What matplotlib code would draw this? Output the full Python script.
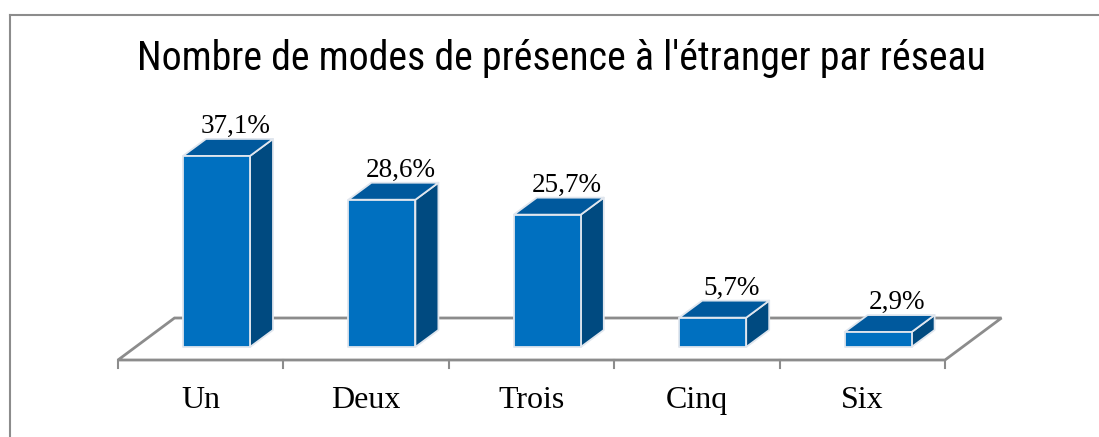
import matplotlib
matplotlib.use("Agg")
import matplotlib.pyplot as plt
from matplotlib.patches import Polygon
from matplotlib.lines import Line2D
from matplotlib import font_manager

categories = ["Un", "Deux", "Trois", "Cinq", "Six"]
values = [37.1, 28.6, 25.7, 5.7, 2.9]
labels = ["37,1%", "28,6%", "25,7%", "5,7%", "2,9%"]
title = "Nombre de modes de présence à l'étranger par réseau"

W, H, DPI = 1099, 437, 100
fig = plt.figure(figsize=(W / DPI, H / DPI), dpi=DPI)
fig.patch.set_facecolor("white")

# pick a narrow sans font for the title if one is installed
names = {f.name for f in font_manager.fontManager.ttflist}
title_font = None
for cand in ["Liberation Sans Narrow", "Arial Narrow", "Roboto Condensed",
             "Open Sans Condensed", "DejaVu Sans Condensed"]:
    if cand in names:
        title_font = cand
        break
if title_font:
    title_kw = dict(family=[title_font, "DejaVu Sans"], fontsize=28.7)
else:
    cond = [f for f in font_manager.fontManager.ttflist
            if "DejaVu Sans" == f.name and f.stretch == "condensed"]
    if cond:
        title_kw = dict(family=["DejaVu Sans"], stretch="condensed", fontsize=25)
    else:
        title_kw = dict(family=["DejaVu Sans"], fontsize=22.5)

# geometry (pixels)
cat_px = 165.4
k = 5.15
x0_px, x1_px = 118, 945
floor_front_px = 360
base_px = 347
ylo = -(floor_front_px - base_px) / k
yhi = 48.0
ax = fig.add_axes([x0_px / W, (H - floor_front_px) / H,
                   (x1_px - x0_px) / W, (yhi - ylo) * k / H])
ax.set_xlim(-0.5, len(categories) - 0.5)
ax.set_ylim(ylo, yhi)
ax.axis("off")

fdx, fdy = 56.5 / cat_px, 42 / k
bdx, bdy = 23 / cat_px, 17 / k

gray = "#8C8C8C"
n = len(categories)
fl = [(-0.5, ylo), (n - 0.5, ylo), (n - 0.5 + fdx, ylo + fdy), (-0.5 + fdx, ylo + fdy)]
ax.add_patch(Polygon(fl, closed=True, facecolor="white", edgecolor=gray,
                     linewidth=2, zorder=1, clip_on=False))
for b in range(n + 1):
    ax.add_line(Line2D([b - 0.5, b - 0.5], [ylo, ylo - 8 / k], color=gray,
                       linewidth=1.5, clip_on=False, zorder=1))

front_c = "#0070C0"
top_c = "#00599D"
side_c = "#004A80"
edge_c = "#E0E6EE"
bw = 67 / cat_px
serif = ["Liberation Serif", "DejaVu Serif"]
for i, (v, lab) in enumerate(zip(values, labels)):
    xl = i - 0.5 + (183 - x0_px) / cat_px
    xr = xl + bw
    yb = 0.0
    yt = v
    front = [(xl, yb), (xr, yb), (xr, yt), (xl, yt)]
    top = [(xl, yt), (xr, yt), (xr + bdx, yt + bdy), (xl + bdx, yt + bdy)]
    side = [(xr, yb), (xr + bdx, yb + bdy), (xr + bdx, yt + bdy), (xr, yt)]
    for poly, c in ((side, side_c), (top, top_c), (front, front_c)):
        ax.add_patch(Polygon(poly, closed=True, facecolor=c, edgecolor=edge_c,
                             linewidth=1.3, joinstyle="round", zorder=3, clip_on=False))
    ax.text(i + 35 / cat_px, yt + bdy + 6 / k, lab, ha="center", va="baseline",
            fontsize=19.5, family=serif, color="black", zorder=5, clip_on=False)
    ax.text(i, -(408 - base_px) / k, categories[i], ha="center", va="baseline",
            fontsize=23, family=serif, color="black", clip_on=False)

fig.text(561 / W, (H - 70) / H, title, ha="center", va="baseline",
         color="black", **title_kw)

fig.add_artist(Line2D([10 / W, 10 / W], [0, (H - 15) / H], color=gray, linewidth=1.5,
                      transform=fig.transFigure))
fig.add_artist(Line2D([10 / W, 1], [(H - 15) / H, (H - 15) / H], color=gray, linewidth=1.5,
                      transform=fig.transFigure))

fig.savefig("out.png", dpi=DPI)
